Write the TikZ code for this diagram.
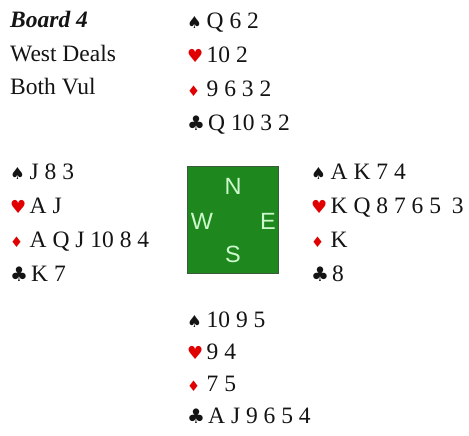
\documentclass[tikz,border=0pt]{standalone}
\usepackage{fontspec}
\setmainfont{Liberation Serif}
\newfontfamily\suitfont{DejaVu Sans}
\newfontfamily\arialfont{Liberation Sans}
\definecolor{tablegreen}{RGB}{30,135,30}
\definecolor{tableedge}{RGB}{60,90,60}
\definecolor{dirgreen}{RGB}{205,250,205}
\definecolor{suitred}{RGB}{225,0,0}
\definecolor{inkblack}{RGB}{20,20,20}
\newcommand\SuitSp{\makebox[19.5pt][l]{\suitfont\fontsize{16.5}{16}\selectfont ♠}}
\newcommand\SuitHe{\makebox[19.5pt][l]{\suitfont\fontsize{18}{17}\selectfont\color{suitred}♥}}
\newcommand\SuitDi{\makebox[19.5pt][l]{\suitfont\fontsize{14.5}{14}\selectfont\color{suitred}♦}}
\newcommand\SuitCl{\makebox[21pt][l]{\suitfont\fontsize{20}{18}\selectfont ♣}}
\begin{document}
\begin{tikzpicture}[x=1pt,y=-1pt,
  hand/.style={anchor=base west,inner sep=0pt,text=inkblack,font=\fontsize{23.5}{23}\selectfont},
  info/.style={anchor=base west,inner sep=0pt,text=inkblack,font=\fontsize{23.5}{23}\selectfont},
  dir/.style={inner sep=0pt,text=dirgreen,font=\arialfont\fontsize{23.5}{23}\selectfont},
  tablebox/.style={draw=tableedge,line width=0.8pt,fill=tablegreen,inner sep=0pt,anchor=north west,minimum width=91pt,minimum height=107pt}]
\useasboundingbox (0,0) rectangle (469,436);
\fill[white] (0,0) rectangle (469,436);
% info
\node[info] (board) at (10,28) {\textbf{\textit{Board 4}}};
\node[info] (deals) at (10,62) {West Deals};
\node[info] (vul) at (10,95) {Both Vul};
% north
\node[hand] (n1) at (187,29) {\SuitSp Q 6 2};
\node[hand] (n2) at (187,63) {\SuitHe 10 2};
\node[hand] (n3) at (187,97) {\SuitDi 9 6 3 2};
\node[hand] (n4) at (187,131) {\SuitCl Q 10 3 2};
% west
\node[hand] (w1) at (10,179) {\SuitSp J 8 3};
\node[hand] (w2) at (10,213) {\SuitHe A J};
\node[hand] (w3) at (10,247) {\SuitDi A Q J 10 8 4};
\node[hand] (w4) at (10,281) {\SuitCl K 7};
% east
\node[hand] (e1) at (311,179) {\SuitSp A K 7 4};
\node[hand] (e2) at (311,213) {\SuitHe K Q 8 7 6 5\hspace{5pt} 3};
\node[hand] (e3) at (311,247) {\SuitDi K};
\node[hand] (e4) at (311,281) {\SuitCl 8};
% south
\node[hand] (s1) at (187,327) {\SuitSp 10 9 5};
\node[hand] (s2) at (187,359) {\SuitHe 9 4};
\node[hand] (s3) at (187,391) {\SuitDi 7 5};
\node[hand] (s4) at (187,423) {\SuitCl A J 9 6 5 4};
% table
\node[tablebox] (table) at (187,166) {};
\node[dir] (dn) at (233,186) {N};
\node[dir] (dw) at (202,221) {W};
\node[dir] (de) at (268,221) {E};
\node[dir] (ds) at (233,254) {S};
\end{tikzpicture}
\end{document}
